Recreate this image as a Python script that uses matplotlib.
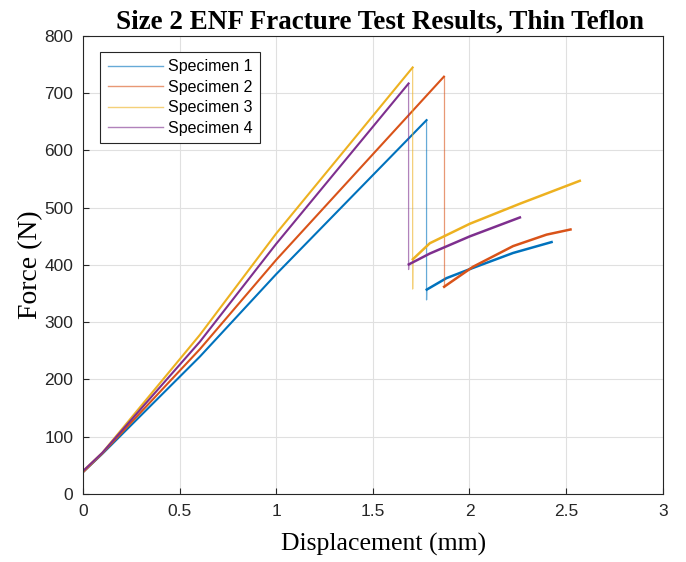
import matplotlib.pyplot as plt
from matplotlib.lines import Line2D

# displacement (mm) and force (N) for each specimen
disp_1 = [0, 0.1, 0.605, 1.0, 1.778, 1.778, 1.779, 1.881, 2.019, 2.226, 2.425]
force_1 = [38, 70, 240, 384, 653, 339, 357, 377, 395, 421, 440]

disp_2 = [0, 0.1, 0.605, 1.0, 1.868, 1.868, 1.869, 2.019, 2.226, 2.399, 2.523]
force_2 = [38, 71, 253, 409, 729, 362, 362, 397, 433, 453, 462]

disp_3 = [0, 0.1, 0.605, 1.0, 1.706, 1.706, 1.707, 1.795, 2.002, 2.261, 2.571]
force_3 = [40, 72, 278, 455, 745, 358, 410, 438, 472, 507, 547]

disp_4 = [0, 0.1, 0.605, 1.0, 1.685, 1.685, 1.686, 1.795, 2.002, 2.261]
force_4 = [40, 72, 266, 437, 717, 392, 401, 420, 450, 483]

labels = ['Specimen 1', 'Specimen 2', 'Specimen 3', 'Specimen 4']
colors = ['#0072BD', '#D95319', '#EDB120', '#7E2F8E']


def main():
	fig = plt.figure(figsize=(6.86, 5.62), dpi=100)
	ax = fig.add_axes([0.121, 0.121, 0.845, 0.815])

	series = [(disp_1, force_1), (disp_2, force_2), (disp_3, force_3), (disp_4, force_4)]
	for (x, y), c in zip(series, colors):
		# loading branch, sudden drop at fracture, then crack growth branch
		ax.plot(x[:5], y[:5], color=c, linewidth=1.5)
		ax.plot(x[4:7], y[4:7], color=c, linewidth=0.9, alpha=0.6)
		ax.plot(x[6:], y[6:], color=c, linewidth=1.8)

	ax.set_xlim(0, 3)
	ax.set_ylim(0, 800)
	ax.set_xticks([0, 0.5, 1, 1.5, 2, 2.5, 3])
	ax.set_xticklabels(['0', '0.5', '1', '1.5', '2', '2.5', '3'])
	ax.set_yticks(range(0, 801, 100))
	ax.grid(True, color='#e0e0e0', linewidth=0.8)
	ax.set_axisbelow(True)
	ax.tick_params(direction='in', length=4, color='#262626', labelsize=12.5,
		labelcolor='#262626', pad=7)
	for lab in ax.get_xticklabels() + ax.get_yticklabels():
		lab.set_fontfamily('Liberation Sans')
	for s in ax.spines.values():
		s.set_color('#262626')
		s.set_linewidth(0.8)

	ax.set_title('Size 2 ENF Fracture Test Results, Thin Teflon', family='Liberation Serif',
		fontweight='bold', fontsize=19.5, pad=5, x=0.512)
	ax.set_xlabel('Displacement (mm)', family='Liberation Serif', fontsize=18.5, labelpad=10)
	ax.xaxis.label.set_x(0.518)
	ax.set_ylabel('Force (N)', family='Liberation Serif', fontsize=20, labelpad=1)

	handles = [Line2D([], [], color=c, linewidth=1.0, alpha=0.6) for c in colors]
	leg = ax.legend(handles, labels, loc='upper left', bbox_to_anchor=(0.03, 0.965),
		prop={'family': 'Liberation Sans', 'size': 11.5}, fancybox=False,
		edgecolor='#262626', framealpha=1, handlelength=3.5, borderpad=0.45,
		labelspacing=0.35, handletextpad=0.3, borderaxespad=0)
	leg.get_frame().set_linewidth(0.8)

	fig.savefig('out.png', dpi=100, facecolor='white')


if __name__ == '__main__':
	main()
